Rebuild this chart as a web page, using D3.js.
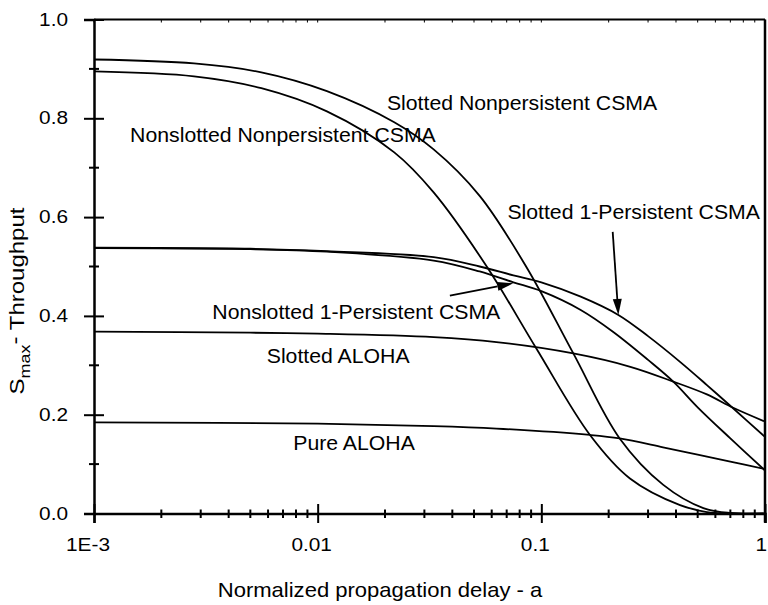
<!DOCTYPE html>
<html>
<head>
<meta charset="utf-8">
<script src="https://cdn.jsdelivr.net/npm/d3@7"></script>
<style>
  html, body { margin: 0; padding: 0; background: #fff; }
  svg { display: block; font-family: "Liberation Sans", Arial, Helvetica, sans-serif; }
</style>
</head>
<body>
<svg id="chart" width="768" height="605"></svg>
<script>
// ---------------- data (a = normalized propagation delay, S = max throughput) ----------------
const slottedNonpersistent = [
  [0.001, 0.919], [0.0028, 0.911], [0.0056, 0.893], [0.011, 0.855], [0.022, 0.792],
  [0.033, 0.737], [0.053, 0.643], [0.086, 0.498], [0.139, 0.324], [0.224, 0.152],
  [0.351, 0.058], [0.53, 0.011], [0.7, 0.001], [1, 0]
];
const nonslottedNonpersistent = [
  [0.001, 0.895], [0.0028, 0.885], [0.0056, 0.861], [0.011, 0.814], [0.022, 0.731],
  [0.033, 0.650], [0.057, 0.500], [0.095, 0.334], [0.165, 0.159], [0.249, 0.071],
  [0.417, 0.017], [0.55, 0.003], [0.7, 0], [1, 0]
];
const slotted1Persistent = [
  [0.001, 0.538], [0.005, 0.536], [0.011, 0.531], [0.033, 0.519], [0.053, 0.500],
  [0.075, 0.482], [0.1, 0.468], [0.15, 0.439], [0.221, 0.402], [0.3, 0.359],
  [0.417, 0.307], [0.55, 0.260], [0.72, 0.213], [1, 0.155]
];
const nonslotted1Persistent = [
  [0.001, 0.537], [0.005, 0.535], [0.011, 0.530], [0.033, 0.512], [0.053, 0.490],
  [0.075, 0.468], [0.1, 0.450], [0.15, 0.412], [0.209, 0.368], [0.3, 0.311],
  [0.389, 0.267], [0.5, 0.215], [0.7, 0.152], [1, 0.087]
];
const slottedAloha = [
  [0.001, 0.368], [0.005, 0.366], [0.01, 0.364], [0.033, 0.357], [0.063, 0.347],
  [0.139, 0.324], [0.25, 0.297], [0.389, 0.267], [0.55, 0.241], [0.721, 0.214], [1, 0.186]
];
const pureAloha = [
  [0.001, 0.1846], [0.01, 0.182], [0.033, 0.177], [0.063, 0.172], [0.165, 0.159],
  [0.224, 0.152], [0.35, 0.134], [0.5, 0.119], [0.7, 0.105], [1, 0.090]
];

const xMajorTicks = [0.001, 0.01, 0.1, 1];
const xTickLabels = ["1E-3", "0.01", "0.1", "1"];
const yMajorTicks = [0, 0.2, 0.4, 0.6, 0.8, 1.0];
const yTickLabels = ["0.0", "0.2", "0.4", "0.6", "0.8", "1.0"];
const yMinorTicks = [0.1, 0.3, 0.5, 0.7, 0.9];

// curve labels: [text, a at left edge, S at baseline]
const curveLabels = [
  ["Slotted Nonpersistent CSMA", 0.0204, 0.817],
  ["Nonslotted Nonpersistent CSMA", 0.00145, 0.753],
  ["Slotted 1-Persistent CSMA", 0.0705, 0.596],
  ["Nonslotted 1-Persistent CSMA", 0.00338, 0.393],
  ["Slotted ALOHA", 0.00592, 0.304],
  ["Pure ALOHA", 0.00778, 0.128]
];
// arrows: [from a, from S, to a, to S]
const arrows = [
  [0.2085, 0.570, 0.221, 0.402],
  [0.039, 0.441, 0.0749, 0.466]
];

// ---------------- layout ----------------
const W = 768, H = 605;
const margin = { left: 94, right: 3, top: 19.5, bottom: 91.5 };
const svg = d3.select("#chart");

const x = d3.scaleLog().domain([0.001, 1]).range([margin.left, W - margin.right]);
const y = d3.scaleLinear().domain([0, 1]).range([H - margin.bottom, margin.top]);

const x0 = x.range()[0], x1 = x.range()[1];
const y0 = y.range()[0], y1 = y.range()[1];

svg.append("defs").append("clipPath").attr("id", "plot")
  .append("rect").attr("x", x0).attr("y", y1).attr("width", x1 - x0).attr("height", y0 - y1);

// minor x ticks
const xMinorTicks = [];
[0.001, 0.01, 0.1].forEach(d => { for (let k = 2; k <= 9; k++) xMinorTicks.push(d * k); });

const ink = "#000";

// frame (top and right)
svg.append("line").attr("x1", x0).attr("x2", x1).attr("y1", y1).attr("y2", y1)
  .attr("stroke", ink).attr("stroke-width", 2);
svg.append("line").attr("x1", x1).attr("x2", x1).attr("y1", y1).attr("y2", y0 + 9)
  .attr("stroke", ink).attr("stroke-width", 2.5);

// top small inward ticks
svg.append("g").selectAll("line").data(xMajorTicks.concat(xMinorTicks)).join("line")
  .attr("x1", d => x(d)).attr("x2", d => x(d)).attr("y1", y1).attr("y2", y1 + 3)
  .attr("stroke", ink).attr("stroke-width", 1);

// curves
const line = d3.line().x(d => x(d[0])).y(d => y(d[1])).curve(d3.curveCatmullRom.alpha(0.5));
const series = [slottedNonpersistent, nonslottedNonpersistent, slotted1Persistent,
                nonslotted1Persistent, slottedAloha, pureAloha];
svg.append("g").attr("clip-path", "url(#plot)").selectAll("path").data(series).join("path")
  .attr("d", line).attr("fill", "none").attr("stroke", ink).attr("stroke-width", 1.8)
  .attr("stroke-linejoin", "round");

// x axis
const gx = svg.append("g").attr("transform", `translate(0,${y0})`)
  .call(d3.axisBottom(x).tickValues(xMajorTicks).tickFormat("").tickSizeOuter(0).tickSize(9.5));
gx.select(".domain").attr("stroke-width", 2.5).attr("stroke", ink);
gx.selectAll(".tick line").attr("y1", -9.5).attr("stroke-width", 2).attr("stroke", ink);
svg.append("g").selectAll("line").data(xMinorTicks).join("line")
  .attr("x1", d => x(d)).attr("x2", d => x(d)).attr("y1", y0 - 4).attr("y2", y0 + 4.5)
  .attr("stroke", ink).attr("stroke-width", 2);

// y axis
const gy = svg.append("g").attr("transform", `translate(${x0},0)`)
  .call(d3.axisLeft(y).tickValues(yMajorTicks).tickFormat("").tickSizeOuter(0).tickSize(10));
gy.select(".domain").attr("stroke-width", 2.5).attr("stroke", ink);
gy.selectAll(".tick line").attr("x1", 10).attr("stroke-width", 2).attr("stroke", ink);
svg.append("g").selectAll("line").data(yMinorTicks).join("line")
  .attr("x1", x0 - 5).attr("x2", x0 + 5).attr("y1", d => y(d)).attr("y2", d => y(d))
  .attr("stroke", ink).attr("stroke-width", 2);

// tick labels
svg.append("g").selectAll("text").data(yMajorTicks).join("text")
  .attr("text-anchor", "end").attr("font-size", 17.5).attr("fill", ink)
  .attr("transform", d => `translate(68,${y(d) + 6}) scale(1.19,1)`)
  .text((d, i) => yTickLabels[i]);
svg.append("g").selectAll("text").data(xMajorTicks).join("text")
  .attr("text-anchor", (d, i) => i === xMajorTicks.length - 1 ? "end" : "middle")
  .attr("font-size", 17.5).attr("fill", ink)
  .attr("transform", (d, i) => `translate(${i === xMajorTicks.length - 1 ? x(d) + 2 : x(d) - 6},551) scale(1.19,1)`)
  .text((d, i) => xTickLabels[i]);

// axis titles
svg.append("text").attr("text-anchor", "middle").attr("font-size", 21).attr("fill", ink)
  .attr("transform", "translate(380,597) scale(1.05,1)")
  .text("Normalized propagation delay - a");

const yt = svg.append("text").attr("text-anchor", "middle").attr("font-size", 20).attr("fill", ink)
  .attr("transform", "translate(24,301) rotate(-90) scale(1.2,1)");
yt.append("tspan").text("S");
yt.append("tspan").attr("font-size", 15).attr("dy", 6).text("max");
yt.append("tspan").attr("dy", -8).text("-");
yt.append("tspan").attr("dy", 2).text(" Throughput");

// curve labels
svg.append("g").selectAll("text").data(curveLabels).join("text")
  .attr("font-size", 19.5).attr("fill", ink)
  .attr("transform", d => `translate(${x(d[1])},${y(d[2])}) scale(1.09,1)`)
  .text(d => d[0]);

// arrows
const ag = svg.append("g");
arrows.forEach(a => {
  const sx = x(a[0]), sy = y(a[1]), tx = x(a[2]), ty = y(a[3]);
  const dx = tx - sx, dy = ty - sy, len = Math.hypot(dx, dy);
  const ux = dx / len, uy = dy / len;
  const hl = 16, hw = 4.5;
  const bx = tx - ux * hl, by = ty - uy * hl;
  ag.append("line").attr("x1", sx).attr("y1", sy).attr("x2", bx).attr("y2", by)
    .attr("stroke", ink).attr("stroke-width", 1.8);
  ag.append("polygon")
    .attr("points", [[tx, ty], [bx - uy * hw, by + ux * hw], [bx + uy * hw, by - ux * hw]].map(p => p.join(",")).join(" "))
    .attr("fill", ink);
});
</script>
</body>
</html>
